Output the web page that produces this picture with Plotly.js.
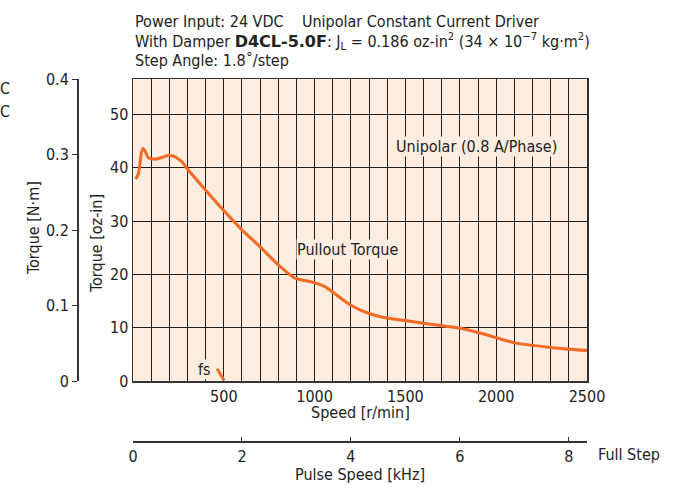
<!DOCTYPE html>
<html><head><meta charset="utf-8">
<script src="https://cdn.plot.ly/plotly-3.0.1.min.js"></script>
<style>html,body{margin:0;padding:0;background:#fff}</style>
</head><body>
<div id="chart" style="width:673px;height:490px"></div>
<script>
// ---- data ----
const speed  = [15, 28, 37, 46, 55, 64, 83, 101, 138, 166, 193, 221, 248, 276, 294, 405, 496, 598, 699, 800, 892, 993, 1057, 1195, 1296, 1397, 1508, 1691, 1802, 1912, 2096, 2298, 2500];
const torque = [37.9, 38.7, 40.3, 42.8, 43.6, 43.3, 41.9, 41.7, 41.7, 42.0, 42.3, 42.2, 41.7, 40.9, 40.0, 35.6, 32.1, 28.4, 25.2, 21.8, 19.3, 18.5, 17.7, 14.3, 12.7, 11.8, 11.3, 10.4, 9.9, 9.0, 7.2, 6.3, 5.7];
const fsSpeed  = [463, 502];
const fsTorque = [2.3, 0.1];
const speedTicks = [500, 1000, 1500, 2000, 2500];
const ozTicks = [0, 10, 20, 30, 40, 50];
const nmTicks = [0, 0.1, 0.2, 0.3, 0.4];
const nmLabels = ['0', '0.1', '0.2', '0.3', '0.4'];
const pulseTicks = [0, 2, 4, 6, 8];
const speedMax = 2500;
const nmMax = 0.4;
const ozPerNm = 141.6;
const pulseMax = speedMax * 200 / 60 / 1000; // full-step 1.8 deg -> kHz

// ---- layout helpers (pixel -> paper) ----
const W = 673, H = 490;
const px = x => x / W;
const py = y => (H - y) / H;
const FONT = "'DejaVu Sans Condensed', 'Liberation Sans Narrow', 'Arial Narrow', sans-serif";
const BG = '#FDEDE1';
const ORANGE = '#F26A24';
const GRID = '#1e1e1e';

const traces = [
  {x: speed, y: torque, type: 'scatter', mode: 'lines', line: {color: ORANGE, width: 3, shape: 'spline', smoothing: 0.6}, hoverinfo: 'skip', showlegend: false},
  {x: fsSpeed, y: fsTorque, type: 'scatter', mode: 'lines', line: {color: ORANGE, width: 3}, hoverinfo: 'skip', showlegend: false},
  {x: [0, pulseMax], y: [0, nmMax], xaxis: 'x2', yaxis: 'y2', type: 'scatter', mode: 'lines', line: {width: 0, color: 'rgba(0,0,0,0)'}, hoverinfo: 'skip', showlegend: false}
];

const tf = {family: FONT, size: 16, color: '#222'};
const layout = {
  width: W, height: H,
  margin: {l: 0, r: 0, t: 0, b: 0},
  paper_bgcolor: '#fff', plot_bgcolor: BG,
  font: tf,
  showlegend: false,
  xaxis: {
    domain: [px(133), px(587)], range: [0, speedMax],
    tickvals: speedTicks, ticks: '', ticklen: 0,
    showgrid: true, gridcolor: GRID, gridwidth: 1,
    minor: {dtick: 100, tick0: 0, showgrid: true, gridcolor: GRID, gridwidth: 1, ticks: ''},
    showline: true, linecolor: '#333', linewidth: 1.5, mirror: true,
    zeroline: false, tickfont: tf, fixedrange: true
  },
  yaxis: {
    domain: [py(381), py(79)], range: [0, nmMax * ozPerNm],
    tickvals: ozTicks, ticks: '',
    showgrid: true, gridcolor: GRID, gridwidth: 1,
    showline: true, linecolor: '#333', linewidth: 1.5, mirror: true,
    zeroline: false, tickfont: tf, fixedrange: true
  },
  xaxis2: {
    overlaying: 'x', anchor: 'free', position: py(441), side: 'bottom',
    range: [0, pulseMax], tickvals: pulseTicks, ticks: 'inside', ticklen: 4, tickcolor: '#333',
    showline: true, linecolor: '#333', linewidth: 1.5, showgrid: false, zeroline: false,
    tickfont: tf, fixedrange: true
  },
  yaxis2: {
    overlaying: 'y', anchor: 'free', position: px(77), side: 'left',
    range: [0, nmMax], tickvals: nmTicks, ticktext: nmLabels, ticks: 'outside', ticklen: 5, tickcolor: '#333',
    showline: true, linecolor: '#333', linewidth: 1.5, showgrid: false, zeroline: false,
    tickfont: tf, fixedrange: true
  },
  annotations: [
    {xref: 'paper', yref: 'paper', x: px(133), y: py(22), xanchor: 'left', yanchor: 'middle', showarrow: false, align: 'left',
     text: 'Power Input: 24 VDC\u00a0\u00a0\u00a0\u00a0Unipolar Constant Current Driver', font: {family: FONT, size: 16, color: '#222'}},
    {xref: 'paper', yref: 'paper', x: px(133), y: py(41), xanchor: 'left', yanchor: 'middle', showarrow: false, align: 'left',
     text: 'With Damper <span style="font-family:\'DejaVu Sans\';font-weight:bold">D4CL-5.0F</span>: J<sub>L</sub> = 0.186 oz-in<sup>2</sup> (34 \u00d7 10<sup>\u22127</sup> kg\u00b7m<sup>2</sup>)', font: {family: FONT, size: 16, color: '#222'}},
    {xref: 'paper', yref: 'paper', x: px(133), y: py(60), xanchor: 'left', yanchor: 'middle', showarrow: false, align: 'left',
     text: 'Step Angle: 1.8\u02da/step', font: {family: FONT, size: 16, color: '#222'}},
    {xref: 'paper', yref: 'paper', x: px(360), y: py(412), xanchor: 'center', yanchor: 'middle', showarrow: false,
     text: 'Speed [r/min]', font: tf},
    {xref: 'paper', yref: 'paper', x: px(360), y: py(474), xanchor: 'center', yanchor: 'middle', showarrow: false,
     text: 'Pulse Speed [kHz]', font: tf},
    {xref: 'paper', yref: 'paper', x: px(596), y: py(454), xanchor: 'left', yanchor: 'middle', showarrow: false,
     text: 'Full Step', font: tf},
    {xref: 'paper', yref: 'paper', x: px(97), y: py(243), xanchor: 'center', yanchor: 'middle', showarrow: false, textangle: -90,
     text: 'Torque [oz-in]', font: tf},
    {xref: 'paper', yref: 'paper', x: px(33), y: py(228), xanchor: 'center', yanchor: 'middle', showarrow: false, textangle: -90,
     text: 'Torque [N\u00b7m]', font: tf},
    {xref: 'x', yref: 'y', x: 1894, y: 43.9, showarrow: false, bgcolor: BG, borderpad: 0,
     text: 'Unipolar (0.8 A/Phase)', font: tf},
    {xref: 'x', yref: 'y', x: 1181, y: 24.75, showarrow: false, bgcolor: BG, borderpad: 0,
     text: 'Pullout Torque', font: tf},
    {xref: 'x', yref: 'y', x: 392, y: 2.1, showarrow: false, bgcolor: BG, borderpad: 0,
     text: 'fs', font: tf},
    {xref: 'paper', yref: 'paper', x: px(12), y: py(88), xanchor: 'right', yanchor: 'middle', showarrow: false,
     text: 'C', font: tf},
    {xref: 'paper', yref: 'paper', x: px(12), y: py(112), xanchor: 'right', yanchor: 'middle', showarrow: false,
     text: 'C', font: tf}
  ]
};
Plotly.newPlot('chart', traces, layout, {staticPlot: true, displayModeBar: false});
</script>
</body></html>
